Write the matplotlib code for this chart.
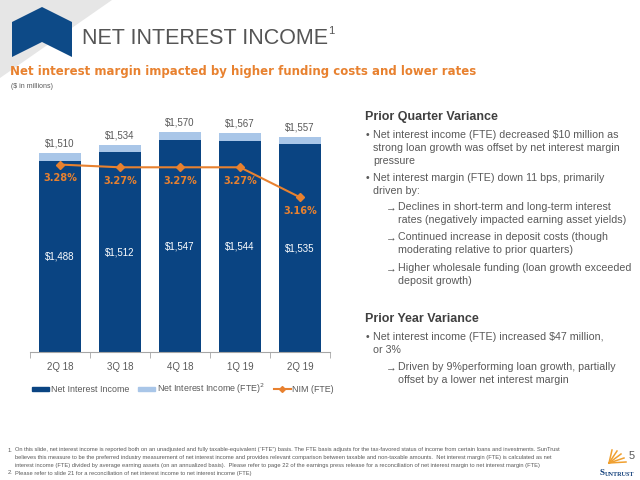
import matplotlib
matplotlib.use('Agg')
import matplotlib.pyplot as plt
from matplotlib.patches import Polygon, Patch
from matplotlib.lines import Line2D

# data ($ in millions)
quarters = ['2Q 18', '3Q 18', '4Q 18', '1Q 19', '2Q 19']
nii = [1488, 1512, 1547, 1544, 1535]
nii_fte = [1510, 1534, 1570, 1567, 1557]
nim = [3.28, 3.27, 3.27, 3.27, 3.16]

navy = '#0A4482'
light = '#A9C6E8'
orange = '#E8812F'
gray = '#595959'

plt.rcParams['font.family'] = ['Liberation Sans', 'DejaVu Sans']

fig = plt.figure(figsize=(6.4, 4.8), dpi=100)

# background layer in pixel coords
bg = fig.add_axes([0, 0, 1, 1], zorder=0)
bg.set_xlim(0, 640)
bg.set_ylim(480, 0)
bg.axis('off')
bg.add_patch(Polygon([(0, 0), (112, 0), (0, 78)], closed=True, color='#E6E6E6', lw=0))
bg.add_patch(Polygon([(12, 22), (42, 7), (72, 22), (72, 57), (42, 42), (12, 57)],
                     closed=True, color='#0D4A87', lw=0))

bg.text(82, 38, 'NET INTEREST INCOME', fontsize=15.5, color='#555555', va='center', ha='left')
bg.text(328, 31, '1', fontsize=8, color='#555555', va='center', ha='left')
bg.text(10, 71, 'Net interest margin impacted by higher funding costs and lower rates',
        fontsize=8.45, color=orange, fontweight='bold', va='center', ha='left',
        family=['DejaVu Sans'])
bg.text(11, 86, '($ in millions)', fontsize=5, color=gray, va='center', ha='left')

# right hand commentary
hdr = dict(fontsize=9, color='#404040', fontweight='bold', va='center', ha='left')
body = dict(fontsize=7.7, color=gray, va='center', ha='left')
bg.text(365, 117, 'Prior Quarter Variance', **hdr)
bg.text(365, 319, 'Prior Year Variance', **hdr)

bullets = [
    (135, ['Net interest income (FTE) decreased $10 million as',
           'strong loan growth was offset by net interest margin',
           'pressure']),
    (178, ['Net interest margin (FTE) down 11 bps, primarily',
           'driven by:']),
    (337, ['Net interest income (FTE) increased $47 million,',
           'or 3%']),
]
subs = [
    (207, ['Declines in short-term and long-term interest',
           'rates (negatively impacted earning asset yields)']),
    (237, ['Continued increase in deposit costs (though',
           'moderating relative to prior quarters)']),
    (268, ['Higher wholesale funding (loan growth exceeded',
           'deposit growth)']),
    (367, ['Driven by 9%performing loan growth, partially',
           'offset by a lower net interest margin']),
]
for y0, lines in bullets:
    bg.text(366, y0, '\u2022', **body)
    for i, s in enumerate(lines):
        bg.text(373, y0 + i * 12.8, s, **body)
for y0, lines in subs:
    bg.text(386, y0, '\u2192', **body)
    for i, s in enumerate(lines):
        bg.text(398, y0 + i * 12.8, s, **body)

# footnotes
foot = dict(fontsize=4.15, color=gray, va='center', ha='left')
bg.text(8, 450, '1.', **foot)
bg.text(15, 450, 'On this slide, net interest income is reported both on an unadjusted and fully taxable-equivalent (\u201cFTE\u201d) basis. '
        'The FTE basis adjusts for the tax-favored status of income from certain loans and investments. SunTrust', **foot)
bg.text(15, 458, 'believes this measure to be the preferred industry measurement of net interest income and provides relevant comparison '
        'between taxable and non-taxable amounts.  Net interest margin (FTE) is calculated as net', **foot)
bg.text(15, 465.5, 'interest income (FTE) divided by average earning assets (on an annualized basis).  Please refer to page 22 of the '
        'earnings press release for a reconciliation of net interest margin to net interest margin (FTE)', **foot)
bg.text(8, 473, '2.', **foot)
bg.text(15, 473, 'Please refer to slide 21 for a reconciliation of net interest income to net interest income (FTE)', **foot)

# logo + page number
for dx, dy in [(3, -13), (8, -12), (12, -9), (15, -5), (17, -1)]:
    bg.plot([609, 609 + dx], [463, 463 + dy], color='#F0A030', lw=1.1)
bg.text(632, 456, '5', fontsize=8, color=gray, va='center', ha='center')
bg.text(605, 473, 'S', fontsize=6.5, color='#0D3C78', fontweight='bold', va='center', ha='right',
        family=['Liberation Serif'])
bg.text(605, 474, 'UNTRUST', fontsize=4.4, color='#0D3C78', fontweight='bold', va='center', ha='left',
        family=['Liberation Serif'])

# chart
ax = fig.add_axes([30 / 640, 1 - 352 / 480, 300 / 640, 242 / 480], zorder=2)
ax.patch.set_alpha(0)
x = list(range(len(quarters)))
diff = [f - n for f, n in zip(nii_fte, nii)]
ax.bar(x, nii, width=0.7, color=navy, zorder=2)
ax.bar(x, diff, bottom=nii, width=0.7, color=light, zorder=2)
ax.set_ylim(933, 1635)
ax.set_xlim(-0.5, 4.5)

for xi, n, f in zip(x, nii, nii_fte):
    ax.annotate('${:,}'.format(f), (xi, f), xytext=(0, 7), textcoords='offset points',
                ha='center', va='center', fontsize=7, color=gray)
    ax.text(xi, (n + 933) / 2, '${:,}'.format(n), ha='center', va='center',
            fontsize=7, color='white')

for s in ['top', 'right', 'left']:
    ax.spines[s].set_visible(False)
ax.spines['bottom'].set_color('#A6A6A6')
ax.set_yticks([])
ax.set_xticks(x)
ax.set_xticklabels(quarters, fontsize=7, color=gray)
ax.set_xticks([i - 0.5 for i in range(6)], minor=True)
ax.tick_params(axis='x', which='major', length=0, pad=7)
ax.tick_params(axis='x', which='minor', length=4, color='#A6A6A6', direction='out')

ax2 = ax.twinx()
ax2.plot(x, nim, color=orange, lw=1.5, marker='D', markersize=4.5, zorder=3)
ax2.set_ylim(2.593, 3.480)
ax2.axis('off')
for xi, v in zip(x, nim):
    ax2.annotate('{:.2f}%'.format(v), (xi, v), xytext=(0, -10), textcoords='offset points',
                 ha='center', va='center', fontsize=7, color=orange, fontweight='bold',
                 family=['DejaVu Sans'])

handles = [Patch(color=navy), Patch(color=light),
           Line2D([], [], color=orange, lw=1.5, marker='D', markersize=3)]
labels = ['Net Interest Income', 'Net Interest Income (FTE)$^{2}$', 'NIM (FTE)']
leg = fig.legend(handles, labels, loc='center', bbox_to_anchor=(183 / 640, 1 - 389 / 480),
                 ncol=3, frameon=False, fontsize=6.4, handlelength=1.9, handleheight=0.45,
                 handletextpad=0.2, columnspacing=1.0)
for t in leg.get_texts():
    t.set_color(gray)

fig.savefig('out.png', dpi=100)
